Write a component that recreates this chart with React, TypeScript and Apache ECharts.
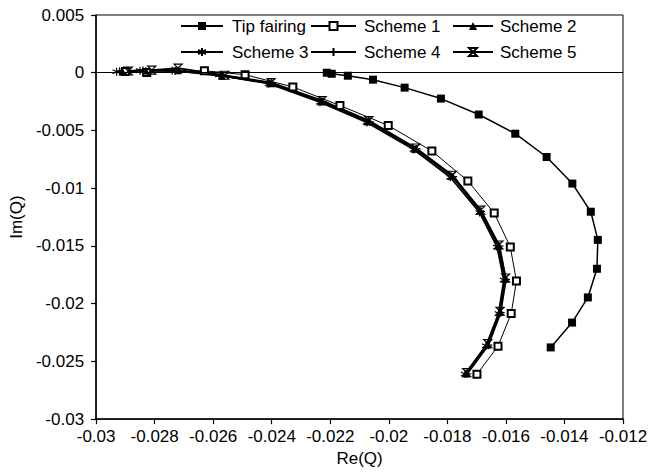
import React, { useEffect, useRef } from "react";
import * as echarts from "echarts";

const xTicks = { min: -0.03, max: -0.012, interval: 0.002 };
const yTicks = { min: -0.03, max: 0.005, interval: 0.005 };

const seriesNames = ["Tip fairing", "Scheme 1", "Scheme 2", "Scheme 3", "Scheme 4", "Scheme 5"];

const tipFairing: number[][] = [
  [-0.02212, 0.0], [-0.02195, -0.00009], [-0.0214, -0.00026], [-0.02054, -0.0006],
  [-0.01946, -0.00129], [-0.01822, -0.00224], [-0.01693, -0.00362], [-0.01568, -0.00528],
  [-0.01461, -0.0073], [-0.01373, -0.0096], [-0.0131, -0.01204], [-0.01286, -0.01448],
  [-0.01289, -0.01698], [-0.0132, -0.01946], [-0.01374, -0.02164], [-0.01447, -0.02379],
];

const scheme1: number[][] = [
  [-0.029, 0.0001], [-0.02827, 0.00003], [-0.0263, 0.00017], [-0.02491, -0.00017],
  [-0.02328, -0.00123], [-0.02167, -0.00284], [-0.02002, -0.00457], [-0.01853, -0.00678],
  [-0.0173, -0.00937], [-0.0164, -0.01216], [-0.01585, -0.01509], [-0.01564, -0.01804],
  [-0.01582, -0.02086], [-0.01627, -0.02368], [-0.01699, -0.02612],
];

const scheme2: number[][] = [
  [-0.0291, 0.0001], [-0.0283, 0.0002], [-0.0272, 0.00022], [-0.0257, -0.00026],
  [-0.02406, -0.00089], [-0.0223, -0.00247], [-0.0207, -0.0042], [-0.0191, -0.00658],
  [-0.01785, -0.00894], [-0.01688, -0.01196], [-0.01626, -0.01497], [-0.01603, -0.01784],
  [-0.01622, -0.02072], [-0.01664, -0.02353], [-0.01736, -0.02603],
];

const scheme3: number[][] = [
  [-0.0293, 0.00008], [-0.0285, 0.00018], [-0.0274, 0.0002], [-0.0258, -0.0002],
  [-0.0241, -0.00095], [-0.02235, -0.00255], [-0.02075, -0.0043], [-0.01915, -0.00665],
  [-0.0179, -0.00905], [-0.0169, -0.0121], [-0.0163, -0.0151], [-0.01607, -0.01795],
  [-0.01625, -0.02085], [-0.01668, -0.02365], [-0.0174, -0.0261],
];

const scheme4: number[][] = [
  [-0.0292, 0.00012], [-0.0284, 0.0002], [-0.0273, 0.00018], [-0.02575, -0.00028],
  [-0.0240, -0.0009], [-0.02225, -0.0025], [-0.02065, -0.00425], [-0.01905, -0.0066],
  [-0.0178, -0.009], [-0.01685, -0.012], [-0.01622, -0.01502], [-0.016, -0.0179],
  [-0.01618, -0.02078], [-0.0166, -0.0236], [-0.01732, -0.02608],
];

const scheme5: number[][] = [
  [-0.0289, 0.00015], [-0.0281, 0.00022], [-0.0272, 0.0004], [-0.0256, -0.00022],
  [-0.02402, -0.00085], [-0.02228, -0.00242], [-0.02068, -0.00415], [-0.01908, -0.00652],
  [-0.01783, -0.00888], [-0.01686, -0.0119], [-0.01624, -0.01492], [-0.01601, -0.01778],
  [-0.0162, -0.02066], [-0.01662, -0.02347], [-0.01734, -0.02598],
];

const FONT = "'Liberation Sans', Arial, Helvetica, sans-serif";

const fmt = (v: number) => String(parseFloat(v.toFixed(3)));

const asterisk = "path://M5 0L5 10M0.67 2.5L9.33 7.5M9.33 2.5L0.67 7.5";
const plus = "path://M5 0L5 10M0 5L10 5";
const hourglass = "path://M0 0L10 0L0 10L10 10Z";

export default function App() {
  const ref = useRef<HTMLDivElement>(null);
  useEffect(() => {
    if (!ref.current) return;
    const chart = echarts.init(ref.current, undefined, { renderer: "svg" });
    const lineBase = (name: string, data: number[][], symbol: string, opts: any) => ({
      name,
      type: "line",
      data,
      symbol,
      showSymbol: true,
      z: opts.z ?? 2,
      ...opts,
    });
    const strokeSym = {
      color: "transparent",
      borderColor: "#000",
      borderWidth: 1.2,
    };
    const legendItem = (name: string, left: number, top: number, w: number, pad: number) => ({
      data: [name],
      left,
      top,
      padding: 0,
      itemWidth: w,
      itemHeight: 10,
      itemGap: 0,
      selectedMode: false,
      textStyle: {
        color: "#000",
        fontSize: 17,
        fontFamily: FONT,
        lineHeight: 18,
        padding: [0, 0, 0, pad],
      },
    });
    chart.setOption({
      animation: false,
      backgroundColor: "#fff",
      grid: {
        left: 96,
        right: 29,
        top: 15,
        bottom: 51,
        show: true,
        borderColor: "#000",
        borderWidth: 1,
      },
      legend: [
        legendItem(seriesNames[0], 180, 17, 42, 4),
        legendItem(seriesNames[1], 310, 17, 45, 3),
        legendItem(seriesNames[2], 452, 17, 40, 2),
        legendItem(seriesNames[3], 180, 43, 42, 4),
        legendItem(seriesNames[4], 310, 43, 45, 3),
        legendItem(seriesNames[5], 452, 43, 40, 2),
      ],
      xAxis: {
        type: "value",
        min: xTicks.min,
        max: xTicks.max,
        interval: xTicks.interval,
        name: "Re(Q)",
        nameLocation: "middle",
        nameGap: 30,
        nameTextStyle: { color: "#000", fontSize: 17, fontFamily: FONT },
        axisLine: { onZero: false, lineStyle: { color: "#000", width: 1.5 } },
        axisTick: { show: true, inside: false, length: 5, lineStyle: { color: "#000", width: 1.2 } },
        axisLabel: { color: "#000", fontSize: 17, fontFamily: FONT, margin: 9, formatter: fmt },
        splitLine: { show: false },
      },
      yAxis: {
        type: "value",
        min: yTicks.min,
        max: yTicks.max,
        interval: yTicks.interval,
        name: "Im(Q)",
        nameLocation: "middle",
        nameGap: 70,
        nameTextStyle: { color: "#000", fontSize: 17, fontFamily: FONT },
        axisLine: { onZero: false, lineStyle: { color: "#000", width: 1.5 } },
        axisTick: { show: true, inside: false, length: 5, lineStyle: { color: "#000", width: 1.2 } },
        axisLabel: { color: "#000", fontSize: 17, fontFamily: FONT, margin: 12, formatter: fmt },
        splitLine: { show: false },
      },
      series: [
        lineBase(seriesNames[0], tipFairing, "rect", {
          symbolSize: 8,
          color: "#000",
          lineStyle: { color: "#000", width: 1.5 },
          itemStyle: { color: "#000" },
          markLine: {
            silent: true,
            symbol: ["none", "none"],
            label: { show: false },
            lineStyle: { color: "#000", width: 1.2, type: "solid" },
            data: [{ yAxis: 0 }],
          },
        }),
        lineBase(seriesNames[1], scheme1, "emptyRect", {
          symbolSize: 7,
          color: "#000",
          lineStyle: { color: "#000", width: 1 },
          itemStyle: { color: "#000", borderWidth: 1 },
        }),
        lineBase(seriesNames[2], scheme2, "triangle", {
          symbolSize: 8,
          color: "#000",
          lineStyle: { color: "#000", width: 1.8 },
          itemStyle: { color: "#000" },
        }),
        lineBase(seriesNames[3], scheme3, asterisk, {
          symbolSize: 8,
          color: "#000",
          lineStyle: { color: "#000", width: 1.8 },
          itemStyle: strokeSym,
        }),
        lineBase(seriesNames[4], scheme4, plus, {
          symbolSize: 8,
          color: "#000",
          lineStyle: { color: "#000", width: 1.8 },
          itemStyle: strokeSym,
        }),
        lineBase(seriesNames[5], scheme5, hourglass, {
          symbolSize: 8,
          color: "#000",
          lineStyle: { color: "#000", width: 1.8 },
          itemStyle: strokeSym,
        }),
      ],
    });
    return () => chart.dispose();
  }, []);
  return (
    <div
      ref={ref}
      style={{ position: "fixed", left: 0, top: 0, width: 652, height: 472, background: "#fff" }}
    />
  );
}
